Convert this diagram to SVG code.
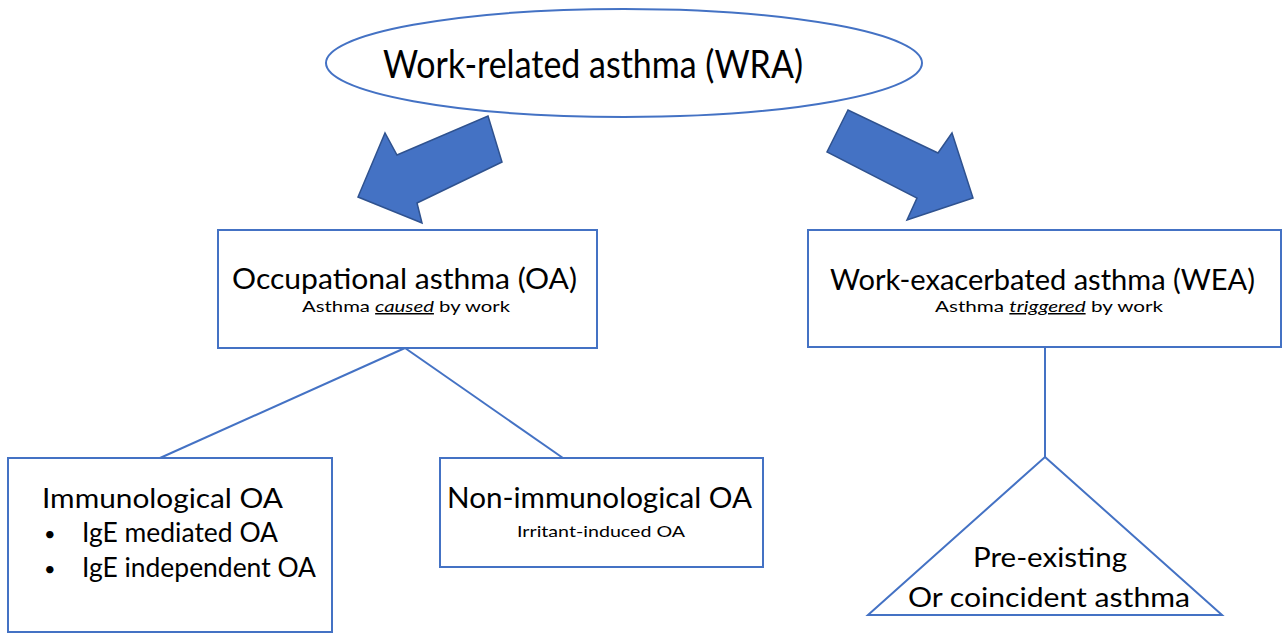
<svg xmlns="http://www.w3.org/2000/svg" width="1283" height="636" viewBox="0 0 1283 636">
<style>
.box{fill:#fff;stroke:#4472C4;stroke-width:2}
.ln{fill:none;stroke:#4472C4;stroke-width:2}
.arr{fill:#4472C4;stroke:#2F528F;stroke-width:1.5;stroke-linejoin:miter}
text{font-family:Lato,"Open Sans","Liberation Sans",sans-serif;fill:#000}
.t1{font-size:39px}
.t2{font-size:28px}
.t3{font-size:15px}
.t4{font-size:26px}
.b{font-size:20px}
.u{font-style:italic;text-decoration:underline}
</style>
<rect width="1283" height="636" fill="#fff"/>
<g id="connectors">
<polygon class="arr" points="488,116 502,162 417,203 422,223 358,197 385,133 397,155"/>
<polygon class="arr" points="848,110 827,152 917,198 907,220 973,198 952,133 938,153"/>
<line class="ln" x1="405" y1="348" x2="160" y2="458"/>
<line class="ln" x1="405" y1="348" x2="563" y2="458"/>
<line class="ln" x1="1045" y1="347" x2="1045" y2="457"/>
</g>
<g id="wra">
<ellipse class="box" cx="624" cy="63" rx="298" ry="54"/>
<text class="t1" x="383" y="78" textLength="420" lengthAdjust="spacingAndGlyphs">Work-related asthma (WRA)</text>
</g>
<g id="oa">
<rect class="box" x="218" y="230" width="379" height="118"/>
<text class="t2" x="232" y="289" textLength="345" lengthAdjust="spacingAndGlyphs">Occupational asthma (OA)</text>
<text class="t3" x="302" y="312" textLength="208" lengthAdjust="spacingAndGlyphs">Asthma <tspan class="u">caused</tspan> by work</text>
</g>
<g id="wea">
<rect class="box" x="808" y="230" width="473" height="117"/>
<text class="t2" x="830" y="290" textLength="425" lengthAdjust="spacingAndGlyphs">Work-exacerbated asthma (WEA)</text>
<text class="t3" x="935" y="312" textLength="228" lengthAdjust="spacingAndGlyphs">Asthma <tspan class="u">triggered</tspan> by work</text>
</g>
<g id="immuno">
<rect class="box" x="8" y="458" width="324" height="174"/>
<text class="t4" x="42" y="508" textLength="241" lengthAdjust="spacingAndGlyphs">Immunological OA</text>
<text class="b" x="44" y="541">•</text>
<text class="t4" x="82" y="542" textLength="196" lengthAdjust="spacingAndGlyphs">IgE mediated OA</text>
<text class="b" x="44" y="576">•</text>
<text class="t4" x="82" y="577" textLength="234" lengthAdjust="spacingAndGlyphs">IgE independent OA</text>
</g>
<g id="nonimmuno">
<rect class="box" x="440" y="458" width="323" height="109"/>
<text class="t2" x="447" y="508" textLength="305" lengthAdjust="spacingAndGlyphs">Non-immunological OA</text>
<text class="t3" x="517" y="537" textLength="168" lengthAdjust="spacingAndGlyphs">Irritant-induced OA</text>
</g>
<g id="preexisting">
<polygon class="box" points="1045,457 1222,615 868,615"/>
<text class="t4" x="973" y="567" textLength="154" lengthAdjust="spacingAndGlyphs">Pre-existing</text>
<text class="t4" x="908" y="607" textLength="282" lengthAdjust="spacingAndGlyphs">Or coincident asthma</text>
</g>
</svg>
